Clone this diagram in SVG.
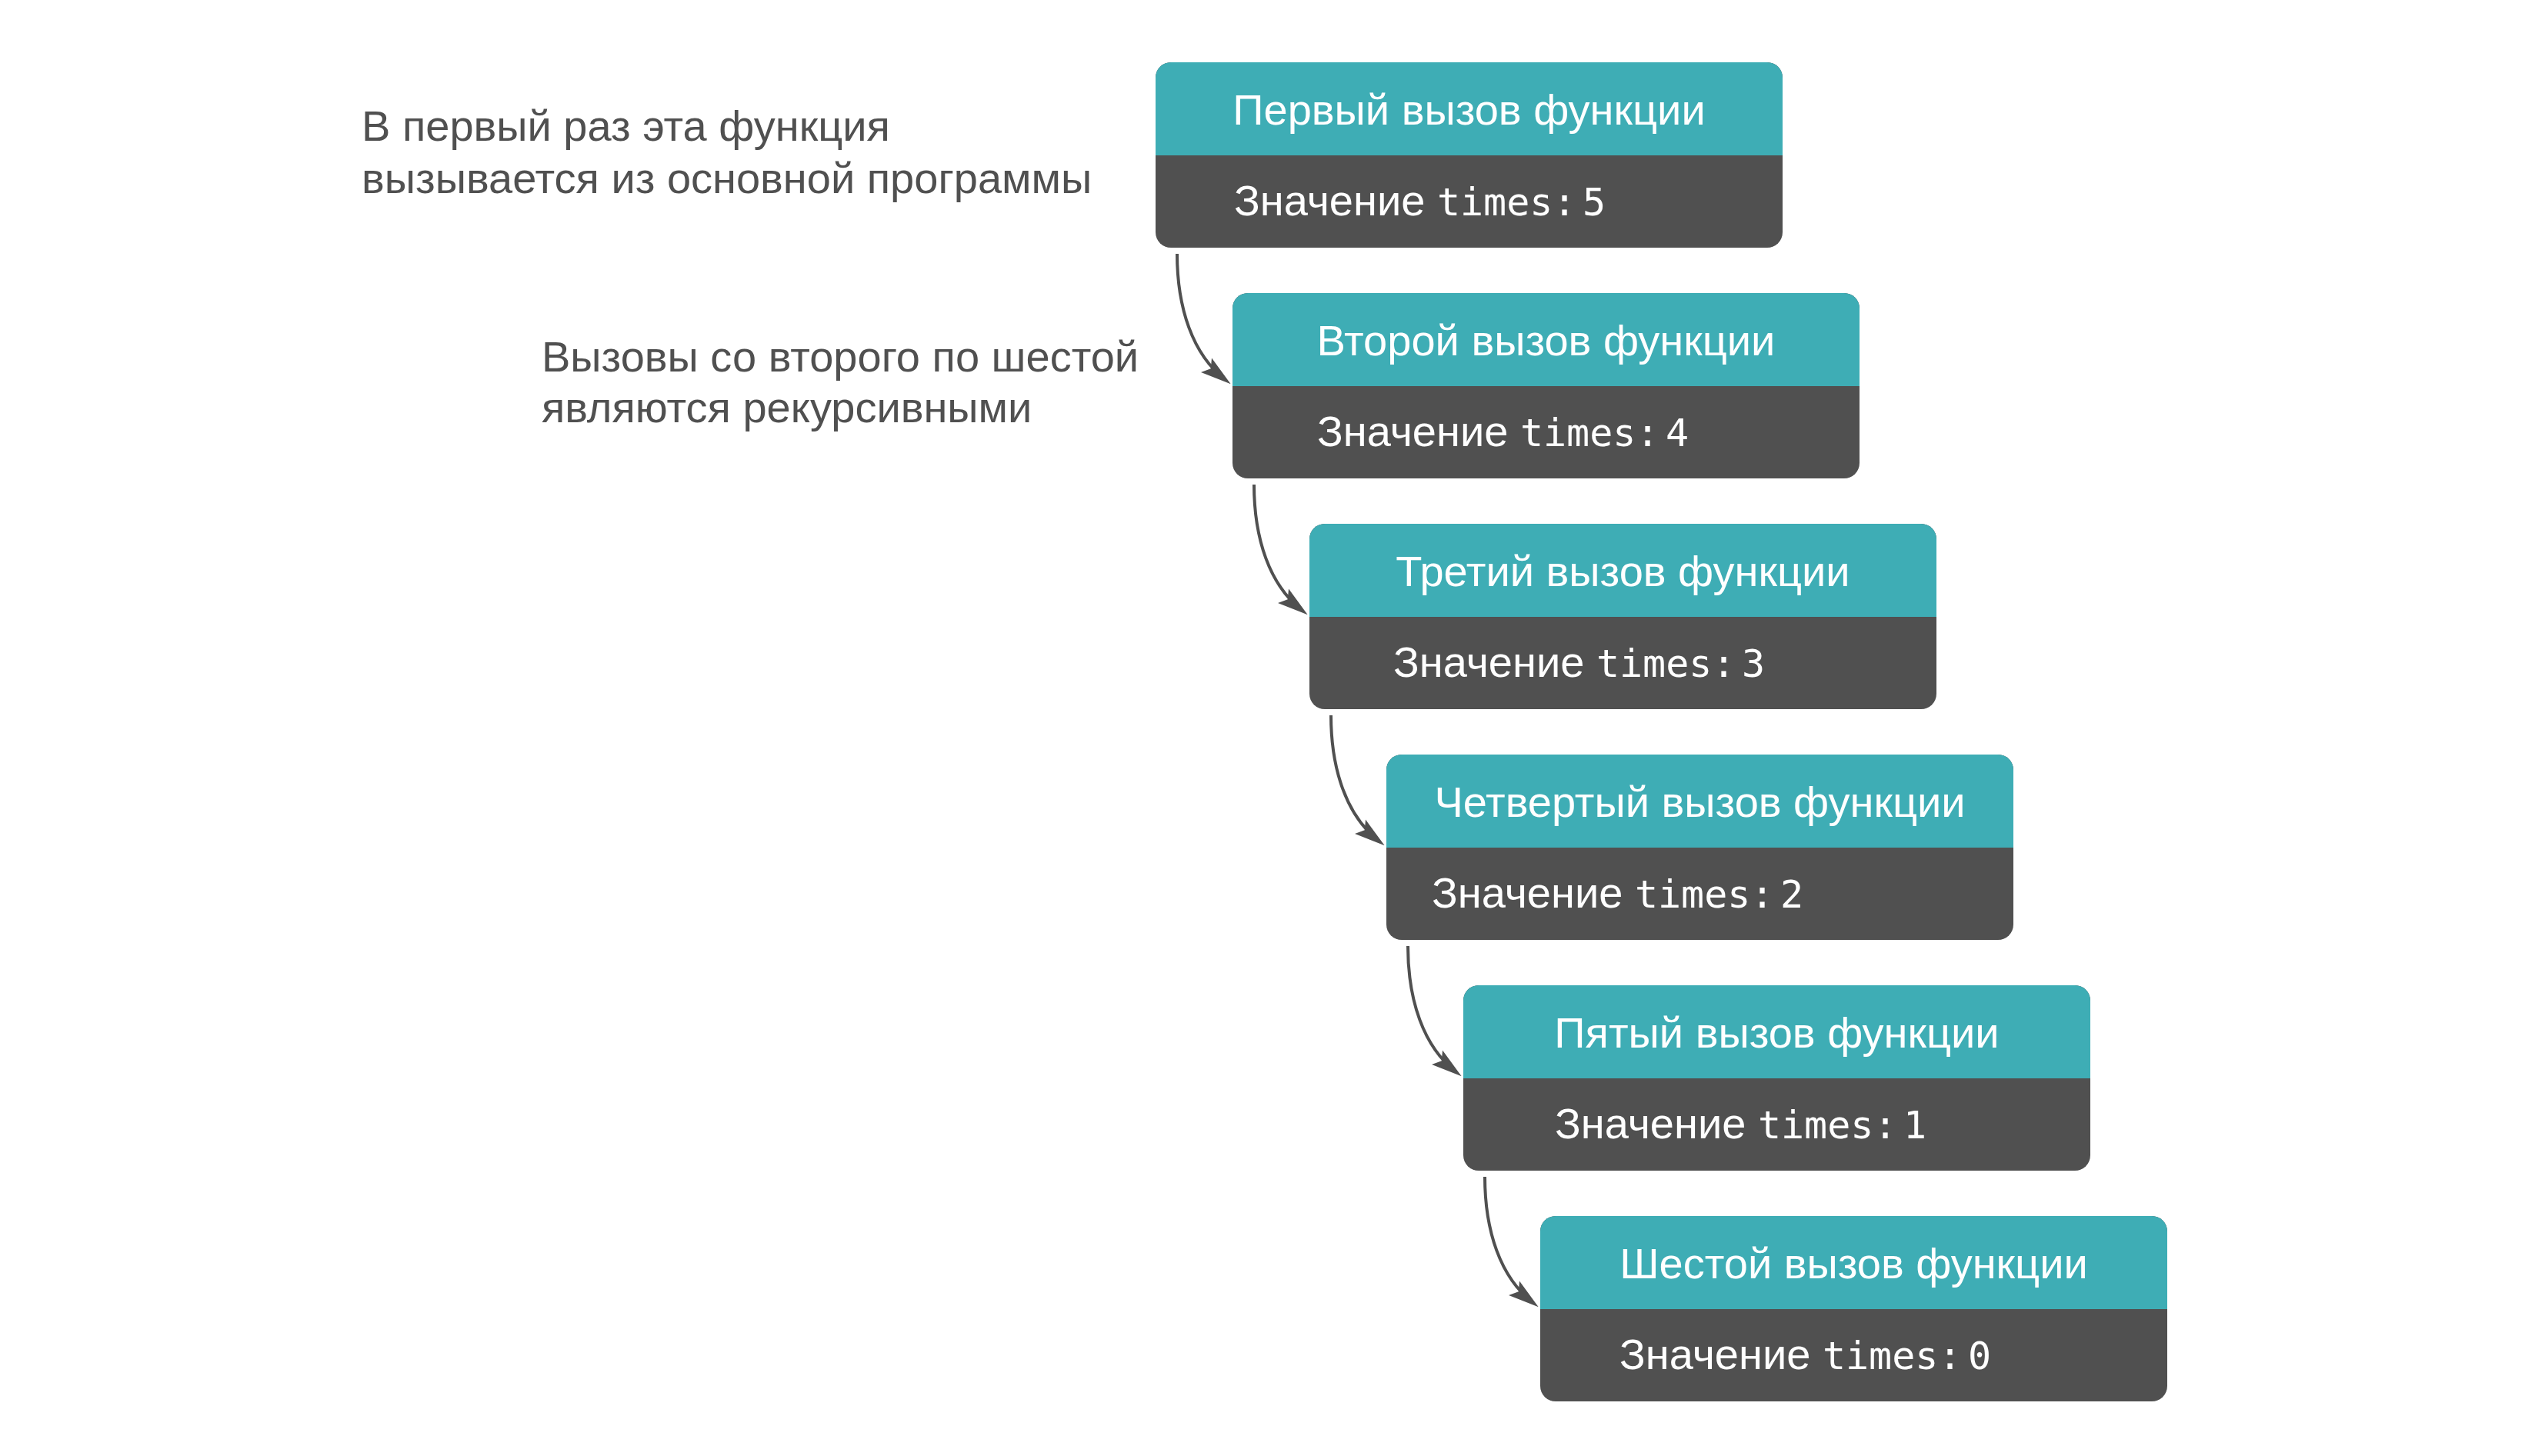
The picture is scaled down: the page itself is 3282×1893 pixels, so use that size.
<svg xmlns="http://www.w3.org/2000/svg" width="3282" height="1893" viewBox="0 0 3282 1893">
<style>
.bg{fill:#ffffff}
.body{fill:#505050}
.head{fill:#3eadb5}
.title{font-family:"Liberation Sans",Arial,sans-serif;font-size:56px;fill:#ffffff;text-anchor:middle}
.val{font-family:"Liberation Sans",Arial,sans-serif;font-size:56px;fill:#ffffff}
.mono{font-family:"DejaVu Sans Mono","Liberation Mono",monospace;font-size:50px}
.thin{font-size:30px}
.note{font-family:"Liberation Sans",Arial,sans-serif;font-size:56px;fill:#505050}
.conn{fill:none;stroke:#505050;stroke-width:4;marker-end:url(#ah)}
</style>
<defs>
<marker id="ah" markerUnits="userSpaceOnUse" markerWidth="40" markerHeight="24" viewBox="0 0 38 22" refX="30" refY="11" orient="auto">
<path d="M0,0 L38,11 L0,22 L7,11 Z" fill="#505050"/>
</marker>
<path id="hdr" d="M0,121 V20 A20,20 0 0 1 20,0 H795 A20,20 0 0 1 815,20 V121 Z"/>
</defs>
<rect class="bg" x="0" y="0" width="3282" height="1893"/>

<g id="note1">
<text class="note" x="470" y="183">В первый раз эта функция</text>
<text class="note" x="470" y="251">вызывается из основной программы</text>
</g>
<g id="note2">
<text class="note" x="704" y="483">Вызовы со второго по шестой</text>
<text class="note" x="704" y="549">являются рекурсивными</text>
</g>

<g id="call1" transform="translate(1502,81)">
<rect class="body" x="0" y="0" width="815" height="241" rx="20"/>
<use href="#hdr" class="head"/>
<text class="title" x="407.5" y="81">Первый вызов функции</text>
<text class="val" x="102" y="199">Значение <tspan class="mono">times:</tspan><tspan class="thin"> </tspan><tspan class="mono">5</tspan></text>
</g>
<g id="call2" transform="translate(1602,381)">
<rect class="body" x="0" y="0" width="815" height="241" rx="20"/>
<use href="#hdr" class="head"/>
<text class="title" x="407.5" y="81">Второй вызов функции</text>
<text class="val" x="110" y="199">Значение <tspan class="mono">times:</tspan><tspan class="thin"> </tspan><tspan class="mono">4</tspan></text>
</g>
<g id="call3" transform="translate(1702,681)">
<rect class="body" x="0" y="0" width="815" height="241" rx="20"/>
<use href="#hdr" class="head"/>
<text class="title" x="407.5" y="81">Третий вызов функции</text>
<text class="val" x="109" y="199">Значение <tspan class="mono">times:</tspan><tspan class="thin"> </tspan><tspan class="mono">3</tspan></text>
</g>
<g id="call4" transform="translate(1802,981)">
<rect class="body" x="0" y="0" width="815" height="241" rx="20"/>
<use href="#hdr" class="head"/>
<text class="title" x="407.5" y="81">Четвертый вызов функции</text>
<text class="val" x="59" y="199">Значение <tspan class="mono">times:</tspan><tspan class="thin"> </tspan><tspan class="mono">2</tspan></text>
</g>
<g id="call5" transform="translate(1902,1281)">
<rect class="body" x="0" y="0" width="815" height="241" rx="20"/>
<use href="#hdr" class="head"/>
<text class="title" x="407.5" y="81">Пятый вызов функции</text>
<text class="val" x="119" y="199">Значение <tspan class="mono">times:</tspan><tspan class="thin"> </tspan><tspan class="mono">1</tspan></text>
</g>
<g id="call6" transform="translate(2002,1581)">
<rect class="body" x="0" y="0" width="815" height="241" rx="20"/>
<use href="#hdr" class="head"/>
<text class="title" x="407.5" y="81">Шестой вызов функции</text>
<text class="val" x="103" y="199">Значение <tspan class="mono">times:</tspan><tspan class="thin"> </tspan><tspan class="mono">0</tspan></text>
</g>

<g id="connectors">
<path class="conn" d="M1530,330 C1530,400 1550,461 1593,494"/>
<path class="conn" d="M1630,630 C1630,700 1650,761 1693,794"/>
<path class="conn" d="M1730,930 C1730,1000 1750,1061 1793,1094"/>
<path class="conn" d="M1830,1230 C1830,1300 1850,1361 1893,1394"/>
<path class="conn" d="M1930,1530 C1930,1600 1950,1661 1993,1694"/>
</g>
</svg>
